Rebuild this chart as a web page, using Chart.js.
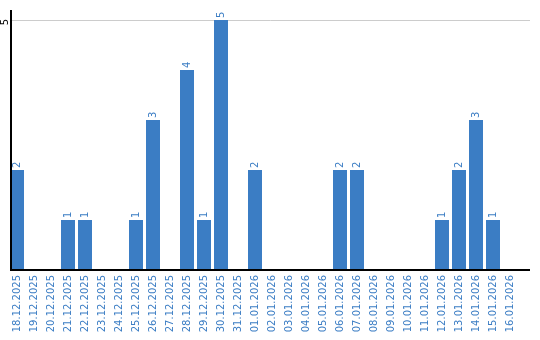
<!DOCTYPE html>
<html>
<head>
<meta charset="utf-8">
<script src="https://cdn.jsdelivr.net/npm/chart.js@4/dist/chart.umd.min.js"></script>
<style>
html,body{margin:0;padding:0;background:#fff;}
#wrap{width:540px;height:340px;position:relative;}
</style>
</head>
<body>
<div id="wrap"><canvas id="c" width="540" height="340"></canvas></div>
<script>
const categories = ["18.12.2025","19.12.2025","20.12.2025","21.12.2025","22.12.2025","23.12.2025","24.12.2025","25.12.2025","26.12.2025","27.12.2025","28.12.2025","29.12.2025","30.12.2025","31.12.2025","01.01.2026","02.01.2026","03.01.2026","04.01.2026","05.01.2026","06.01.2026","07.01.2026","08.01.2026","09.01.2026","10.01.2026","11.01.2026","12.01.2026","13.01.2026","14.01.2026","15.01.2026","16.01.2026"];
const counts = [2,0,0,1,1,0,0,1,3,0,4,1,5,0,2,0,0,0,0,2,2,0,0,0,0,1,2,3,1,0];
const yTicks = [5];

const BLUE = '#3b7dc4';
const FONT = '"DejaVu Sans", Verdana, sans-serif';

const decor = {
  id: 'decor',
  beforeDatasetsDraw(chart) {
    const {ctx, chartArea, scales} = chart;
    const right = chart.width - 10;
    ctx.save();
    ctx.strokeStyle = '#cccccc';
    ctx.lineWidth = 1;
    yTicks.forEach(v => {
      const y = Math.round(scales.y.getPixelForValue(v)) + 0.5;
      ctx.beginPath(); ctx.moveTo(chartArea.left + 2, y); ctx.lineTo(right, y); ctx.stroke();
    });
    ctx.restore();
  },
  afterDatasetsDraw(chart) {
    const {ctx, chartArea, scales} = chart;
    const right = chart.width - 10;
    const axisX = chartArea.left + 2.5;
    ctx.save();
    ctx.strokeStyle = '#000';
    ctx.lineWidth = 2;
    const y0 = scales.y.getPixelForValue(0);
    ctx.beginPath(); ctx.moveTo(axisX - 1, y0); ctx.lineTo(right, y0); ctx.stroke();
    ctx.beginPath(); ctx.moveTo(axisX, chartArea.top); ctx.lineTo(axisX, y0 + 1); ctx.stroke();
    // value labels
    const meta = chart.getDatasetMeta(0);
    ctx.fillStyle = BLUE;
    ctx.font = '10px ' + FONT;
    ctx.textAlign = 'left';
    ctx.textBaseline = 'middle';
    meta.data.forEach((bar, i) => {
      const v = counts[i];
      if (!v) return;
      ctx.save();
      ctx.translate(bar.x, bar.y - 2);
      ctx.rotate(-Math.PI / 2);
      ctx.fillText(String(v), 0, 0);
      ctx.restore();
    });
    ctx.restore();
  }
};

new Chart(document.getElementById('c'), {
  type: 'bar',
  data: {
    labels: categories,
    datasets: [{
      data: counts,
      backgroundColor: BLUE,
      borderWidth: 0,
      categoryPercentage: 1,
      barPercentage: 14/17
    }]
  },
  options: {
    responsive: false,
    animation: false,
    layout: { padding: { top: 10, right: 21.5, left: 0, bottom: 0 } },
    plugins: { legend: { display: false }, tooltip: { enabled: false } },
    scales: {
      x: {
        grid: { display: false, drawTicks: false },
        border: { display: false },
        ticks: {
          color: BLUE,
          font: { family: FONT, size: 10 },
          minRotation: 90, maxRotation: 90,
          autoSkip: false,
          padding: 5
        },
        afterFit: s => { s.height = 70; }
      },
      y: {
        min: 0, max: 5.2,
        grid: { display: false, drawTicks: false },
        border: { display: false },
        afterBuildTicks: s => { s.ticks = yTicks.map(v => ({ value: v })); },
        ticks: {
          color: '#000',
          font: { family: FONT, size: 10 },
          minRotation: 90, maxRotation: 90,
          crossAlign: 'center',
          labelOffset: 2,
          padding: 0
        },
        afterFit: s => { s.width = 8.5; }
      }
    }
  },
  plugins: [decor]
});
</script>
</body>
</html>
